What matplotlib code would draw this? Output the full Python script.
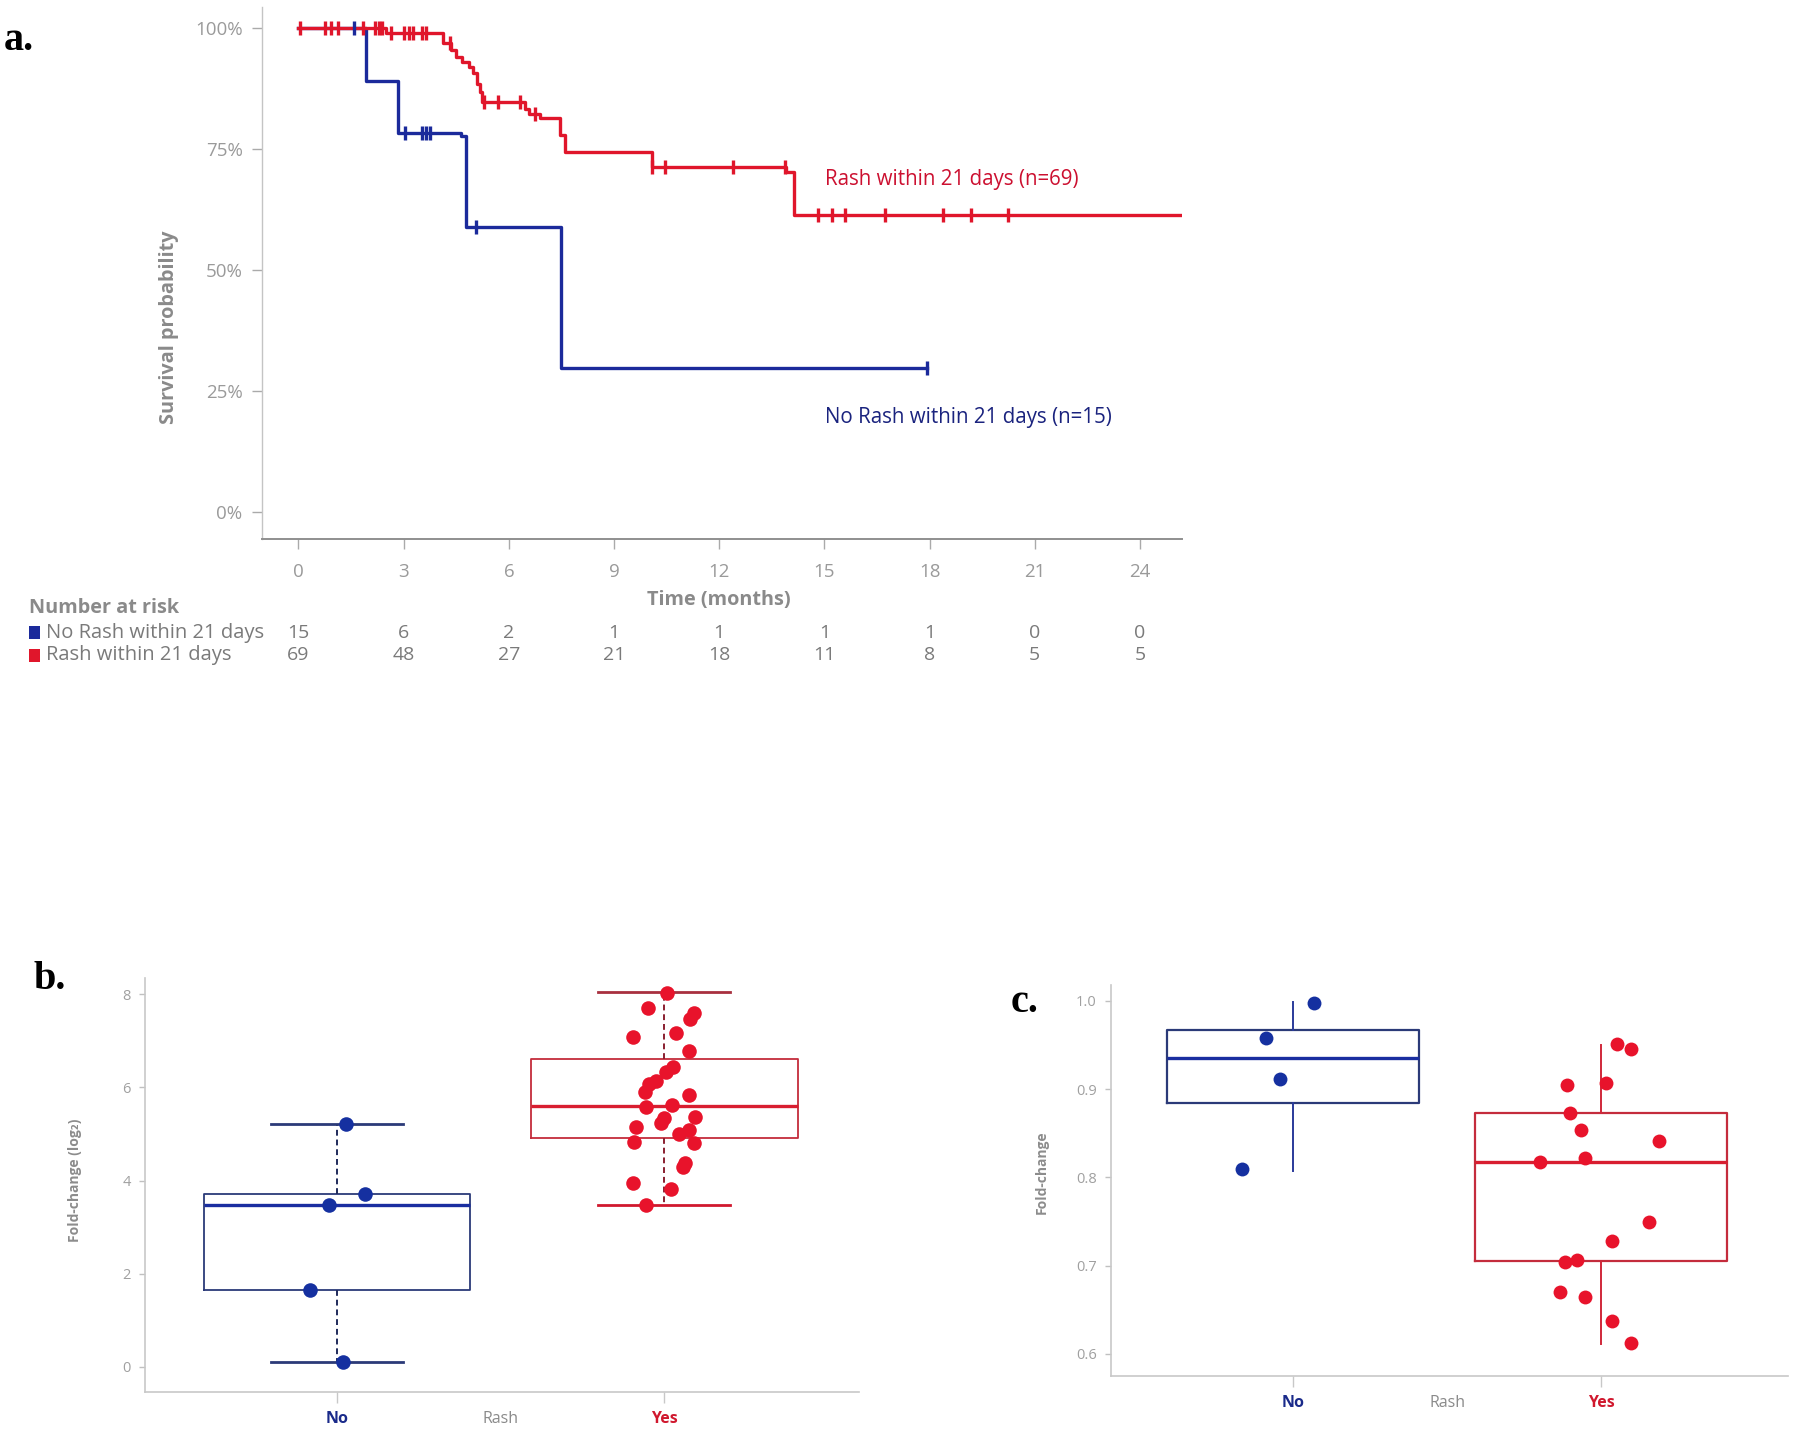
import numpy as np
import matplotlib
matplotlib.use('Agg')
import matplotlib.pyplot as plt
from matplotlib import transforms
from matplotlib.patches import Rectangle

plt.rcParams['font.family'] = ['Open Sans', 'DejaVu Sans']

# ---------------- data: panel a (Kaplan-Meier) ----------------
time_ticks = [0, 3, 6, 9, 12, 15, 18, 21, 24]
surv_ticks = [0, 25, 50, 75, 100]
surv_tick_labels = ['0%', '25%', '50%', '75%', '100%']
risk_groups = ['No Rash within 21 days', 'Rash within 21 days']
risk_no = [15, 6, 2, 1, 1, 1, 1, 0, 0]
risk_yes = [69, 48, 27, 21, 18, 11, 8, 5, 5]

no_step_t = [0, 1.93, 2.85, 4.63, 4.77, 7.49, 17.92]
no_step_s = [100, 89.2, 78.4, 77.7, 59.0, 29.8, 29.8]
no_cens_t = [1.59, 3.05, 3.52, 3.65, 3.75, 5.07, 17.92]

yes_step_t = [0, 2.50, 4.13, 4.35, 4.50, 4.67, 4.86, 4.98, 5.09, 5.18, 5.24,
              6.45, 6.58, 6.89, 7.47, 7.59, 10.08, 13.91, 14.13, 25.15]
yes_step_s = [100, 99.0, 97.0, 95.5, 94.1, 93.1, 92.1, 90.7, 88.6, 86.9, 84.8,
              83.4, 82.4, 81.4, 77.9, 74.5, 71.4, 70.3, 61.4, 61.4]
yes_cens_t = [0.05, 0.76, 0.94, 1.14, 1.83, 2.18, 2.29, 2.37,
              2.63, 3.01, 3.14, 3.27, 3.52, 3.65, 4.32,
              5.30, 5.69, 6.32, 6.74, 10.08, 10.46, 12.38, 13.88,
              14.83, 15.22, 15.58, 16.74, 18.38, 19.18, 20.23]

# ---------------- data: panel b ----------------
groups = ['No', 'Rash', 'Yes']
b_no_x = [1.026, 1.086, 0.974, 0.917, 1.017]
b_no_y = [5.21, 3.71, 3.47, 1.66, 0.10]
b_yes_x = [2.009, 1.95, 2.09, 2.08, 1.906, 2.036, 2.076, 2.027, 2.006, 1.974,
           1.953, 1.941, 2.076, 2.023, 1.944, 2.094, 2.0, 1.99, 1.913, 2.076,
           2.046, 1.909, 2.09, 2.064, 2.058, 1.906, 2.02, 1.944]
b_yes_y = [8.03, 7.71, 7.60, 7.47, 7.07, 7.16, 6.77, 6.43, 6.32, 6.14,
           6.07, 5.89, 5.83, 5.62, 5.57, 5.36, 5.35, 5.23, 5.14, 5.09,
           4.99, 4.82, 4.81, 4.37, 4.29, 3.94, 3.82, 3.47]
b_no_box = dict(whislo=0.10, q1=1.65, med=3.48, q3=3.71, whishi=5.21)
b_yes_box = dict(whislo=3.47, q1=4.91, med=5.60, q3=6.61, whishi=8.04)

# ---------------- data: panel c ----------------
c_no_x = [1.069, 0.913, 0.957, 0.834]
c_no_y = [0.998, 0.958, 0.911, 0.809]
c_yes_x = [2.051, 2.097, 1.889, 2.014, 1.897, 1.935, 2.188, 1.948, 1.801,
           2.153, 2.033, 1.92, 1.883, 1.866, 1.948, 2.033, 2.097]
c_yes_y = [0.951, 0.946, 0.905, 0.907, 0.873, 0.854, 0.841, 0.822, 0.818,
           0.749, 0.728, 0.706, 0.704, 0.670, 0.664, 0.637, 0.612]
c_no_box = dict(whislo=0.807, q1=0.884, med=0.935, q3=0.967, whishi=0.999)
c_yes_box = dict(whislo=0.611, q1=0.705, med=0.817, q3=0.873, whishi=0.950)

# ---------------- styling ----------------
RED = '#e0162b'
BLUE = '#1b2a9b'
RED_TXT = '#cc1030'
BLUE_TXT = '#1a237e'
GRAY_LBL = '#8a8a8a'
GRAY_TICK = '#9a9a9a'

W, H = 1800, 1439
fig = plt.figure(figsize=(W / 100, H / 100), dpi=100)


def fx(px):
    return px / W


def fy(py):
    return 1 - py / H


def surv_at(t, ts, ss):
    i = np.searchsorted(ts, t, side='right') - 1
    return ss[i]


# ================= panel a =================
axa = fig.add_axes([fx(262), fy(539.3), fx(1182) - fx(262), fy(6.7) - fy(539.3)])
axa.step(no_step_t, no_step_s, where='post', color=BLUE, lw=2.4)
axa.step(yes_step_t, yes_step_s, where='post', color=RED, lw=2.4)
axa.plot(no_cens_t, [surv_at(t, no_step_t, no_step_s) for t in no_cens_t],
         ls='none', marker='|', ms=10, mew=2.4, color=BLUE)
axa.plot(yes_cens_t, [surv_at(t, yes_step_t, yes_step_s) for t in yes_cens_t],
         ls='none', marker='|', ms=10, mew=2.4, color=RED)

axa.set_xlim(-1.04, 25.2)
axa.set_ylim(-5.7, 104.5)
axa.set_xticks(time_ticks)
axa.set_xticklabels([str(t) for t in time_ticks])
axa.set_yticks(surv_ticks)
axa.set_yticklabels(surv_tick_labels)
for s in ['top', 'right']:
    axa.spines[s].set_visible(False)
axa.spines['left'].set_color('#c4c4c4')
axa.spines['left'].set_linewidth(1.0)
axa.spines['bottom'].set_color('#8f8f8f')
axa.spines['bottom'].set_linewidth(1.4)
axa.tick_params(axis='x', length=7, width=1, color='#aaaaaa', pad=10,
                labelsize=13.5, labelcolor=GRAY_TICK)
axa.tick_params(axis='y', length=7, width=1, color='#aaaaaa', pad=7,
                labelsize=13.5, labelcolor=GRAY_TICK)

axa.text(15.03, 68.8, 'Rash within 21 days (n=69)', color=RED_TXT,
         fontsize=14.8, ha='left', va='center')
axa.text(15.03, 19.4, 'No Rash within 21 days (n=15)', color=BLUE_TXT,
         fontsize=14.8, ha='left', va='center')

fig.text(fx(169), fy(327), 'Survival probability', rotation=90, color=GRAY_LBL,
         fontsize=14.3, fontweight='bold', ha='center', va='center')
fig.text(fx(719), fy(600), 'Time (months)', color=GRAY_LBL, fontsize=14.3,
         fontweight='bold', ha='center', va='center')

# number at risk table
fig.text(fx(29), fy(608), 'Number at risk', color=GRAY_LBL, fontsize=14.3,
         fontweight='bold', ha='left', va='center')
row_y = [633, 655]
row_col = [BLUE, RED]
blend = transforms.blended_transform_factory(axa.transData, fig.transFigure)
for name, yy, col, vals in zip(risk_groups, row_y, row_col, [risk_no, risk_yes]):
    fig.add_artist(Rectangle((fx(29), fy(yy + 6.5)), 11 / W, 13 / H,
                             transform=fig.transFigure, color=col, lw=0))
    fig.text(fx(46), fy(yy), name, color='#7a7a7a', fontsize=14.5,
             ha='left', va='center')
    for t, v in zip(time_ticks, vals):
        axa.text(t, fy(yy), str(v), transform=blend, color='#7a7a7a',
                 fontsize=14, ha='center', va='center')

fig.text(fx(4), fy(50), 'a.', family='Liberation Serif', fontweight='bold',
         fontsize=29, ha='left', va='baseline')


# ================= panels b and c =================
def style_box_axes(ax):
    for s in ['top', 'right']:
        ax.spines[s].set_visible(False)
    for s in ['left', 'bottom']:
        ax.spines[s].set_color('#c8c8c8')
        ax.spines[s].set_linewidth(1.2)
    ax.tick_params(axis='y', length=4, width=1, color='#c0c0c0', pad=6,
                   labelsize=10.5, labelcolor='#a0a0a0')
    ax.tick_params(axis='x', length=8, width=1, color='#c8c8c8', pad=6,
                   labelsize=11.5)
    ax.set_xticks([1, 1.5, 2])
    ax.set_xticklabels(groups)
    lbls = ax.get_xticklabels()
    lbls[0].set_color('#1a2a8a')
    lbls[0].set_fontweight('bold')
    lbls[1].set_color('#8a8a8a')
    lbls[2].set_color('#d0182e')
    lbls[2].set_fontweight('bold')
    ax.xaxis.get_major_ticks()[1].tick1line.set_visible(False)


def draw_boxes(ax, no_box, yes_box, caps, dashed, box_lw):
    stats = []
    for b in (no_box, yes_box):
        d = dict(b)
        d['fliers'] = []
        stats.append(d)
    art = ax.bxp(stats, positions=[1, 2], widths=0.816, showcaps=caps,
                 capwidths=0.406, manage_ticks=False)
    edge_cols = ['#2b3a78', '#c42c3c']
    med_cols = ['#1a2ea0', '#d81e30']
    whisk_cols = ['#1f2a5a', '#8a1f30'] if dashed else ['#2a3a9a', '#d0283a']
    for i in range(2):
        art['boxes'][i].set_color(edge_cols[i])
        art['boxes'][i].set_linewidth(box_lw)
        art['medians'][i].set_color(med_cols[i])
        art['medians'][i].set_linewidth(2.4)
        for w in art['whiskers'][2 * i:2 * i + 2]:
            w.set_color(whisk_cols[i])
            w.set_linewidth(1.4)
            if dashed:
                w.set_linestyle((0, (3, 2)))
        if caps:
            art['caps'][2 * i].set_color(edge_cols[i] if i == 0 else '#d0182e')
            art['caps'][2 * i + 1].set_color(edge_cols[i] if i == 0 else '#a8303f')
            for c in art['caps'][2 * i:2 * i + 2]:
                c.set_linewidth(2.0)


# panel b
axb = fig.add_axes([fx(144.7), fy(1391.7), fx(859) - fx(144.7), fy(978.3) - fy(1391.7)])
draw_boxes(axb, b_no_box, b_yes_box, caps=True, dashed=True, box_lw=1.3)
axb.scatter(b_no_x, b_no_y, s=110, color='#1530a0', zorder=5, lw=0)
axb.scatter(b_yes_x, b_yes_y, s=110, color='#e8132b', zorder=5, lw=0)
axb.set_xlim(0.412, 2.596)
axb.set_ylim(-0.53, 8.34)
axb.set_yticks([0, 2, 4, 6, 8])
style_box_axes(axb)
fig.text(fx(75), fy(1180), 'Fold-change (log₂)', rotation=90,
         fontweight='bold', fontsize=10, color='#8c8c8c',
         ha='center', va='center')
fig.text(fx(34), fy(989), 'b.', family='Liberation Serif', fontweight='bold',
         fontsize=29, ha='left', va='baseline')

# panel c
axc = fig.add_axes([fx(1110.8), fy(1375.7), fx(1788) - fx(1110.8), fy(985) - fy(1375.7)])
draw_boxes(axc, c_no_box, c_yes_box, caps=False, dashed=False, box_lw=1.6)
axc.scatter(c_no_x, c_no_y, s=100, color='#1530a0', zorder=5, lw=0)
axc.scatter(c_yes_x, c_yes_y, s=100, color='#e8132b', zorder=5, lw=0)
axc.set_xlim(0.41, 2.605)
axc.set_ylim(0.5754, 1.018)
axc.set_yticks([0.6, 0.7, 0.8, 0.9, 1.0])
axc.set_yticklabels(['0.6', '0.7', '0.8', '0.9', '1.0'])
style_box_axes(axc)
fig.text(fx(1042), fy(1172), 'Fold-change', rotation=90,
         fontweight='bold', fontsize=10, color='#8c8c8c',
         ha='center', va='center')
fig.text(fx(1011), fy(1011.7), 'c.', family='Liberation Serif', fontweight='bold',
         fontsize=29, ha='left', va='baseline')

fig.savefig('out.png', dpi=100, facecolor='white')
